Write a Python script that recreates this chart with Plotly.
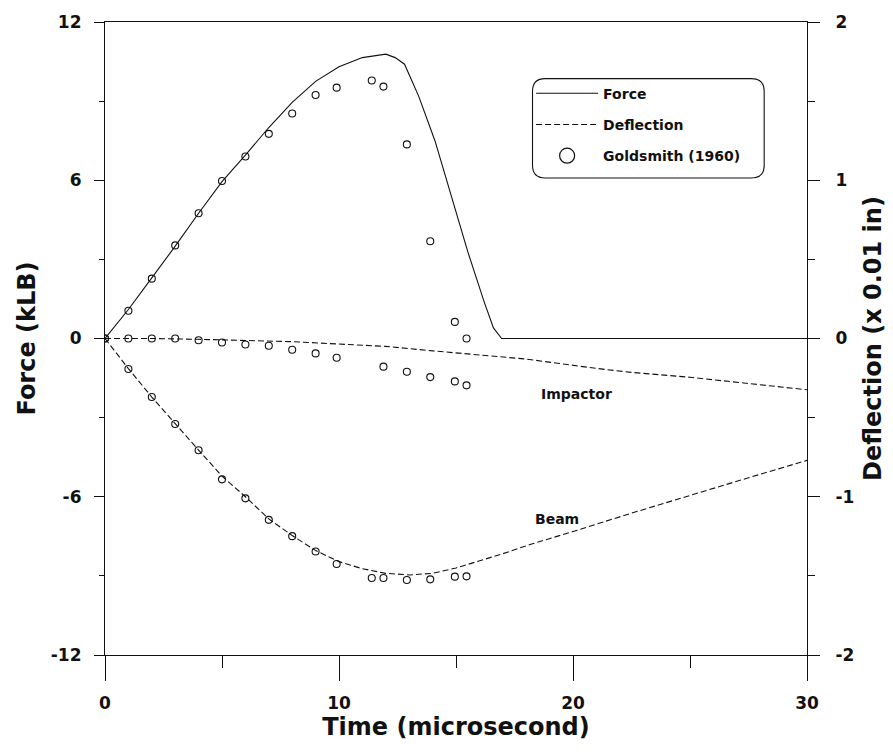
import plotly.graph_objects as go

# ---------------- data ----------------
# Force (kLB) model curve
force_t = [0, 1, 2, 3, 4, 5, 6, 7, 8, 9, 10, 11, 12, 12.4, 12.8, 13.4, 14.1, 14.8, 15.5, 16.2, 16.6, 16.95, 30]
force_v = [0, 1.1, 2.3, 3.5, 4.75, 5.95, 6.95, 8.0, 8.95, 9.75, 10.3, 10.65, 10.78, 10.65, 10.4, 9.2, 7.5, 5.4, 3.3, 1.4, 0.4, 0, 0]

# Deflection (x 0.01 in) model curves
imp_t = [0, 2, 4, 6, 8, 10, 12, 14, 16, 18, 21, 22.5, 25, 27.5, 30]
imp_v = [0, 0, -0.005, -0.012, -0.02, -0.035, -0.05, -0.078, -0.105, -0.13, -0.189, -0.214, -0.245, -0.285, -0.324]

beam_t = [0, 1, 2, 3, 4, 5, 6, 7, 8, 9, 10, 11, 12, 13, 14, 15, 16, 17, 18.2, 20, 22.45, 25, 27.5, 30]
beam_v = [0, -0.19, -0.37, -0.54, -0.705, -0.87, -1.0, -1.14, -1.245, -1.34, -1.41, -1.455, -1.484, -1.494,
          -1.484, -1.45, -1.405, -1.36, -1.30, -1.22, -1.106, -0.99, -0.88, -0.77]

# Goldsmith (1960) experimental points
gf_t = [0, 1, 2, 3, 4, 5, 6, 7, 8, 9, 9.9, 11.4, 11.9, 12.9, 13.9, 14.95, 15.45]
gf_v = [0, 1.05, 2.27, 3.53, 4.75, 5.97, 6.9, 7.76, 8.53, 9.23, 9.51, 9.78, 9.55, 7.36, 3.69, 0.63, 0.0]

gi_t = [0, 1, 2, 3, 4, 5, 6, 7, 8, 9, 9.9, 11.9, 12.9, 13.9, 14.95, 15.45]
gi_v = [0, 0, 0, 0, -0.011, -0.025, -0.038, -0.046, -0.071, -0.094, -0.122, -0.178, -0.21, -0.244, -0.271, -0.296]

gb_t = [1, 2, 3, 4, 5, 6, 7, 8, 9, 9.9, 11.4, 11.9, 12.9, 13.9, 14.95, 15.45]
gb_v = [-0.193, -0.37, -0.54, -0.706, -0.89, -1.01, -1.146, -1.249, -1.346, -1.425, -1.513, -1.513,
        -1.526, -1.522, -1.505, -1.503]

x_ticks = [0, 10, 20, 30]
x_ticktext = ["0", "10", "20", "30"]
y_ticks = [-12, -6, 0, 6, 12]
y_ticktext = ["-12", "-6", "0", "6", "12"]
y2_ticks = [-2, -1, 0, 1, 2]
y2_ticktext = ["-2", "-1", "0", "1", "2"]

# ---------------- figure ----------------
FONT = "DejaVu Sans"
BLK = "#111111"
line_w = 1.1
dash = "6px,3px"

fig = go.Figure()

fig.add_trace(go.Scatter(x=force_t, y=force_v, mode="lines", name="Force",
                         line=dict(color=BLK, width=line_w), legendgroup="a", yaxis="y"))
fig.add_trace(go.Scatter(x=imp_t, y=imp_v, mode="lines", name="Deflection",
                         line=dict(color=BLK, width=line_w, dash=dash), legendgroup="b", yaxis="y2"))
fig.add_trace(go.Scatter(x=beam_t, y=beam_v, mode="lines", name="Deflection", showlegend=False,
                         line=dict(color=BLK, width=line_w, dash=dash), legendgroup="b", yaxis="y2"))

mk = dict(symbol="circle-open", size=7, color=BLK, line=dict(width=1.1, color=BLK))
fig.add_trace(go.Scatter(x=gf_t, y=gf_v, mode="markers", marker=mk, showlegend=False, yaxis="y"))
fig.add_trace(go.Scatter(x=gi_t, y=gi_v, mode="markers", marker=mk, showlegend=False, yaxis="y2"))
fig.add_trace(go.Scatter(x=gb_t, y=gb_v, mode="markers", marker=mk, showlegend=False, yaxis="y2"))
# legend-only entry with larger symbol
fig.add_trace(go.Scatter(x=[None], y=[None], mode="markers", name="Goldsmith (1960)", legendgroup="c",
                         marker=dict(symbol="circle-open", size=15, color=BLK, line=dict(width=1.2, color=BLK))))

tickfont = dict(family=FONT, size=17, color=BLK, weight="bold")
titlefont = dict(family=FONT, size=24, color=BLK, weight="bold")

fig.update_layout(
    width=893, height=753,
    margin=dict(l=105, r=85, t=18, b=98),
    paper_bgcolor="white", plot_bgcolor="white",
    showlegend=True,
    legend=dict(x=0.607, y=0.912, xanchor="left", yanchor="top",
                bgcolor="rgba(0,0,0,0)", borderwidth=0,
                font=dict(family=FONT, size=14, color=BLK, weight="bold"),
                tracegroupgap=10, itemwidth=62),
    xaxis=dict(range=[0, 30], tickvals=x_ticks, ticktext=x_ticktext, showgrid=False, zeroline=False,
               showline=True, linecolor=BLK, linewidth=1.2, mirror=True,
               ticks="outside", ticklen=25, tickwidth=1.2, tickcolor=BLK,
               minor=dict(dtick=5, ticks="outside", ticklen=12, tickwidth=1, tickcolor=BLK),
               tickfont=tickfont, ticklabelstandoff=7,
               title=dict(text="Time (microsecond)", font=titlefont, standoff=6)),
    yaxis=dict(range=[-12, 12], tickvals=y_ticks, ticktext=y_ticktext, showgrid=False, zeroline=False,
               showline=True, linecolor=BLK, linewidth=1.2,
               ticks="outside", ticklen=10, tickwidth=1.2, tickcolor=BLK,
               minor=dict(dtick=3, ticks="outside", ticklen=5, tickwidth=1, tickcolor=BLK),
               tickfont=tickfont, ticklabelstandoff=9,
               title=dict(text="Force (kLB)", font=titlefont, standoff=8)),
    yaxis2=dict(range=[-2, 2], tickvals=y2_ticks, ticktext=y2_ticktext, overlaying="y", side="right",
                showgrid=False, zeroline=False, showline=True, linecolor=BLK, linewidth=1.2,
                ticks="outside", ticklen=12, tickwidth=1.2, tickcolor=BLK,
                minor=dict(dtick=0.5, ticks="outside", ticklen=7, tickwidth=1, tickcolor=BLK),
                tickfont=tickfont, ticklabelstandoff=12,
                title=dict(text="Deflection (x 0.01 in)", font=titlefont, standoff=10)),
)

# rounded legend box (paper coordinates)
x0, x1, y0, y1 = 0.609, 0.939, 0.7535, 0.9105
rx, ry = 0.018, 0.02
path = (f"M{x0+rx},{y1} L{x1-rx},{y1} Q{x1},{y1} {x1},{y1-ry} L{x1},{y0+ry} Q{x1},{y0} {x1-rx},{y0} "
        f"L{x0+rx},{y0} Q{x0},{y0} {x0},{y0+ry} L{x0},{y1-ry} Q{x0},{y1} {x0+rx},{y1} Z")
fig.add_shape(type="path", path=path, xref="paper", yref="paper",
              line=dict(color=BLK, width=1.1), fillcolor="rgba(0,0,0,0)")

fig.add_annotation(x=20.13, y=-0.35, yref="y2", text="Impactor", showarrow=False,
                   font=dict(family=FONT, size=14, color=BLK, weight="bold"))
fig.add_annotation(x=19.3, y=-1.14, yref="y2", text="Beam", showarrow=False,
                   font=dict(family=FONT, size=14, color=BLK, weight="bold"))

fig.write_html("out.html")
